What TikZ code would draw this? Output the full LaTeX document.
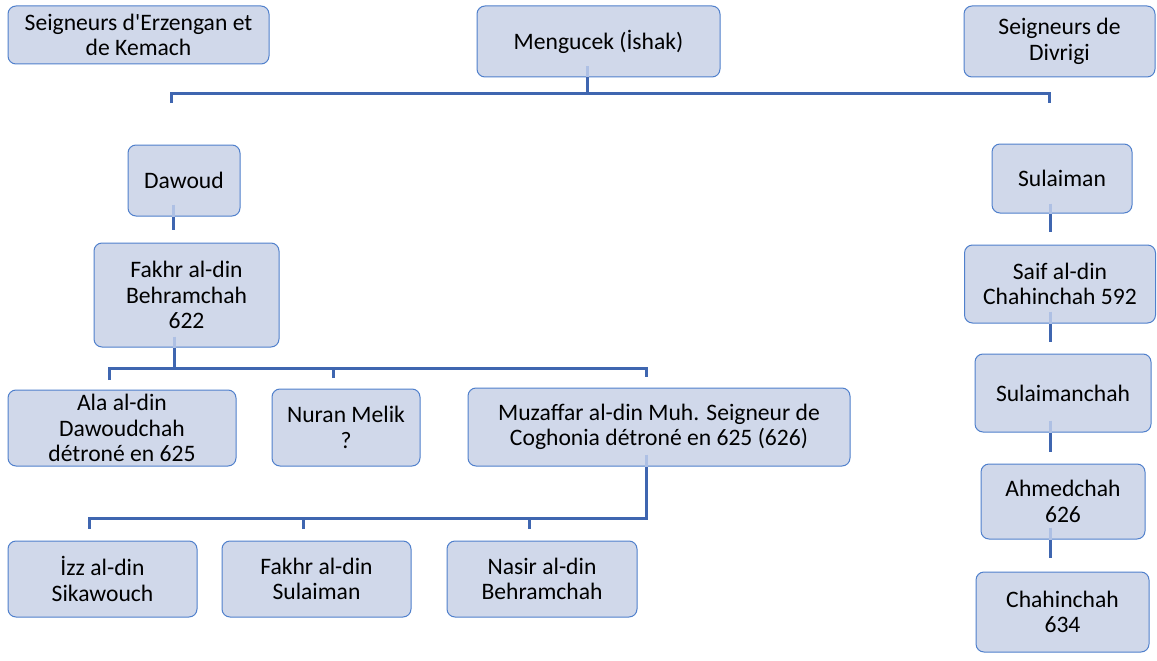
\documentclass[tikz,border=0pt]{standalone}
\usepackage{fontspec}
\setmainfont{Carlito}
\definecolor{boxfill}{HTML}{D0D8EA}
\definecolor{boxline}{HTML}{5080CC}
\definecolor{conn}{HTML}{3F66B0}
\definecolor{faint}{HTML}{AEC0E4}
\tikzset{
  box/.style={draw=boxline, fill=boxfill, line width=1pt, rounded corners=8pt,
    align=center, inner sep=0pt, font=\fontsize{23.6}{25.5}\selectfont},
  conline/.style={draw=conn, line width=3pt},
  faintline/.style={draw=faint, line width=3pt},
}
\begin{document}
\begin{tikzpicture}[x=1pt,y=-1pt]
\useasboundingbox (0,0) rectangle (1157,661);
% boxes
\node[box, minimum width=261pt, minimum height=58pt] (erz) at (138.5,35) {Seigneurs d\textquotesingle Erzengan et\\de Kemach};
\node[box, minimum width=243pt, minimum height=71pt] (meng) at (598.5,41.5) {Mengucek (İshak)};
\node[box, minimum width=191pt, minimum height=71pt] (div) at (1059.5,41.5) {Seigneurs de\\Divrigi};
\node[box, minimum width=112pt, minimum height=71pt] (daw) at (184,180.5) {Dawoud};
\node[box, minimum width=185pt, minimum height=104pt] (fak) at (186.5,295) {Fakhr al-din\\Behramchah\\622};
\node[box, minimum width=228pt, minimum height=76pt] (ala) at (122,428) {Ala al-din\\Dawoudchah\\détroné en 625};
\node[box, minimum width=148pt, minimum height=77pt] (nur) at (346,427.5) {Nuran Melik\\?};
\node[box, minimum width=382pt, minimum height=78pt] (muz) at (659,427) {Muzaffar al-din Muh. Seigneur de\\Coghonia détroné en 625 (626)};
\node[box, minimum width=189pt, minimum height=76pt] (izz) at (102.5,579) {İzz al-din\\Sikawouch};
\node[box, minimum width=189pt, minimum height=76pt] (fsu) at (316.5,579) {Fakhr al-din\\Sulaiman};
\node[box, minimum width=190pt, minimum height=76pt] (nas) at (542,579) {Nasir al-din\\Behramchah};
\node[box, minimum width=140pt, minimum height=69pt] (sul) at (1062,178.5) {Sulaiman};
\node[box, minimum width=191pt, minimum height=78pt] (saif) at (1060,284) {Saif al-din\\Chahinchah 592};
\node[box, minimum width=176pt, minimum height=78pt] (sch) at (1063,393) {Sulaimanchah};
\node[box, minimum width=164pt, minimum height=75pt] (ahm) at (1063,501.5) {Ahmedchah\\626};
\node[box, minimum width=173pt, minimum height=80pt] (chi) at (1062.5,612) {Chahinchah\\634};
% bus coordinates
\coordinate (tb) at (587,93.5);
\coordinate (tbl) at (171,93.5);
\coordinate (tbr) at (1049,93.5);
\coordinate (tdl) at (171,103);
\coordinate (tdr) at (1049,103);
\coordinate (dawend) at (173,230);
\coordinate (fb) at (174,368);
\coordinate (fbl) at (109,368);
\coordinate (fbr) at (646,368);
\coordinate (fd1) at (109,380);
\coordinate (fd2) at (333,378);
\coordinate (fd3) at (646,377);
\coordinate (mb) at (646,518);
\coordinate (mbl) at (89,518);
\coordinate (md1) at (89,529);
\coordinate (md2) at (303,529);
\coordinate (md3) at (529,529);
\coordinate (c1) at (1050,232);
\coordinate (c2) at (1050,342);
\coordinate (c3) at (1050,452);
\coordinate (c4) at (1050,558);
% top connector
\path[faintline] ([yshift=11pt]meng.south -| tb) -- (meng.south -| tb);
\path[conline] (meng.south -| tb) -- (tb);
\path[conline] (tdl) -- (tbl) -- (tbr) -- (tdr);
% Dawoud
\path[faintline] ([yshift=12pt]daw.south -| dawend) -- (daw.south -| dawend);
\path[conline] (daw.south -| dawend) -- (dawend);
% Fakhr
\path[faintline] ([yshift=11pt]fak.south -| fb) -- (fak.south -| fb);
\path[conline] (fak.south -| fb) -- (fb);
\path[conline] (fd1) -- (fbl) -- (fbr) -- (fd3);
\path[conline] (fd2) -- (fd2 |- fb);
% Muzaffar
\path[faintline] ([yshift=12pt]muz.south -| mb) -- (muz.south -| mb);
\path[conline] (muz.south -| mb) -- (mb) -- (mbl) -- (md1);
\path[conline] (md2) -- (md2 |- mb);
\path[conline] (md3) -- (md3 |- mb);
% right chain
\path[faintline] ([yshift=10pt]sul.south -| c1) -- (sul.south -| c1);
\path[conline] (sul.south -| c1) -- (c1);
\path[faintline] ([yshift=12pt]saif.south -| c2) -- (saif.south -| c2);
\path[conline] (saif.south -| c2) -- (c2);
\path[faintline] ([yshift=12pt]sch.south -| c3) -- (sch.south -| c3);
\path[conline] (sch.south -| c3) -- (c3);
\path[faintline] ([yshift=12pt]ahm.south -| c4) -- (ahm.south -| c4);
\path[conline] (ahm.south -| c4) -- (c4);
\end{tikzpicture}
\end{document}
